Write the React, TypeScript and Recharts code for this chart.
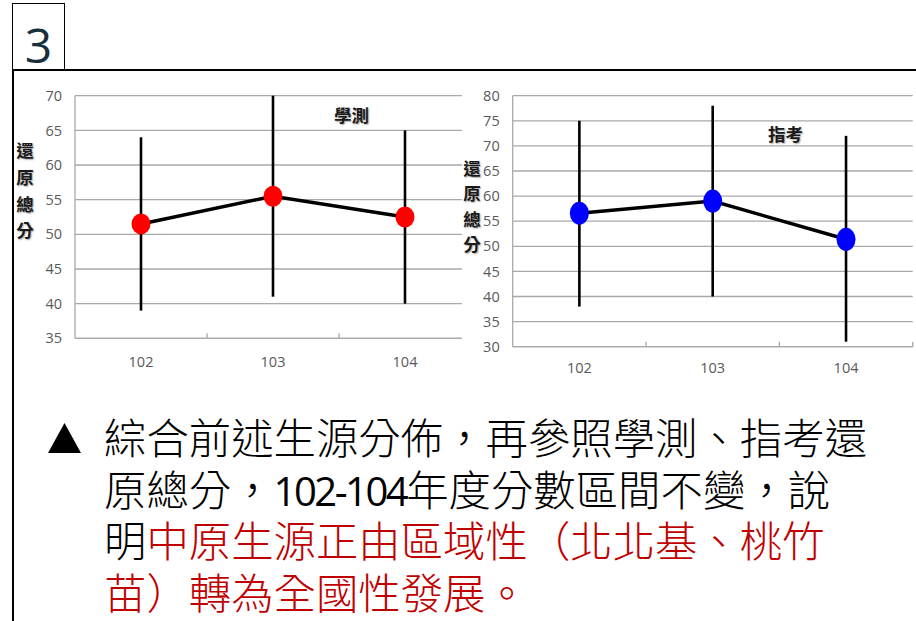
import React from "react";
import { LineChart, Line, XAxis, YAxis, CartesianGrid, ErrorBar } from "recharts";

// Data
const years = [102, 103, 104];

// 學測
const gsatMean = [51.5, 55.5, 52.5];
const gsatHigh = [64, 70, 65];
const gsatLow = [39, 41, 40];
const gsatTicks = [35, 40, 45, 50, 55, 60, 65, 70];

// 指考
const astMean = [56.6, 59, 51.4];
const astHigh = [75, 78, 72];
const astLow = [38, 40, 31];
const astTicks = [30, 35, 40, 45, 50, 55, 60, 65, 70, 75, 80];

const yLabel = ["還", "原", "總", "分"];

const GRID = "#a9a9a9";
const TICK_FONT = "'Open Sans', 'Noto Sans', sans-serif";
const CJK = "'Noto Sans CJK TC', 'Noto Sans CJK SC', sans-serif";

const buildRows = (mean: number[], high: number[], low: number[]) =>
  years.map((year, i) => ({
    year,
    mean: mean[i],
    err: [mean[i] - low[i], high[i] - mean[i]],
  }));

// x labels on the years, short inward marks between the categories
const xTicks = [...years, ...years.map((y) => y + 0.5)].sort((a, b) => a - b);

function makeTick(labelOffset: number) {
  return (props: any) => {
    const { x, y, payload } = props;
    if (Number.isInteger(payload.value)) {
      return (
        <text x={x} y={y + labelOffset} dy="0.35em" textAnchor="middle" fill="#595959" fontSize={14.5} fontFamily={TICK_FONT}>
          {payload.value}
        </text>
      );
    }
    return <line x1={x} x2={x} y1={y - 5} y2={y} stroke={GRID} strokeWidth={1.3} />;
  };
}

type ScoreChartProps = {
  mean: number[];
  high: number[];
  low: number[];
  ticks: number[];
  color: string;
  ry: number;
  width: number;
  yAxisWidth: number;
  right: number;
  xAxisHeight: number;
  labelOffset: number;
};

function ScoreChart(p: ScoreChartProps) {
  const rows = buildRows(p.mean, p.high, p.low);
  return (
    <LineChart width={p.width} height={300} data={rows} margin={{ top: 15.7, right: p.right, bottom: 0, left: 0 }}>
      <CartesianGrid vertical={false} stroke={GRID} strokeWidth={1.3} />
      <XAxis
        dataKey="year"
        type="number"
        domain={[years[0] - 0.5, years[years.length - 1] + 0.5]}
        ticks={xTicks}
        interval={0}
        height={p.xAxisHeight}
        tickSize={0}
        tickMargin={0}
        tickLine={false}
        axisLine={{ stroke: GRID, strokeWidth: 1.3 }}
        tick={makeTick(p.labelOffset)}
      />
      <YAxis
        type="number"
        domain={[p.ticks[0], p.ticks[p.ticks.length - 1]]}
        ticks={p.ticks}
        interval={0}
        width={p.yAxisWidth}
        tickSize={0}
        tickMargin={13}
        tickLine={false}
        axisLine={{ stroke: GRID, strokeWidth: 1.3 }}
        tick={{ fill: "#595959", fontSize: 14.5, fontFamily: TICK_FONT }}
      />
      <Line
        dataKey="mean"
        stroke="#000"
        strokeWidth={3.5}
        isAnimationActive={false}
        activeDot={false}
        dot={(d: any) => <ellipse key={d.index} cx={d.cx} cy={d.cy} rx={9.5} ry={p.ry} fill={p.color} />}
      />
      <Line dataKey="mean" stroke="none" dot={false} activeDot={false} isAnimationActive={false}>
        <ErrorBar dataKey="err" direction="y" width={0} stroke="#000" strokeWidth={2.6} isAnimationActive={false} />
      </Line>
    </LineChart>
  );
}

const shadowText: React.CSSProperties = {
  position: "absolute",
  fontFamily: CJK,
  fontWeight: 700,
  fontSize: 17.5,
  color: "#1a1a1a",
  textShadow: "1px 1px 1.5px rgba(0,0,0,0.35)",
  lineHeight: 1,
};

function VerticalLabel({ left, top, step }: { left: number; top: number; step: number }) {
  return (
    <>
      {yLabel.map((ch, i) => (
        <div key={ch} style={{ ...shadowText, left: left - 8.75, top: top + i * step - 8.75 }}>
          {ch}
        </div>
      ))}
    </>
  );
}

const bodyText: React.CSSProperties = {
  whiteSpace: "nowrap",
  height: 51.7,
  lineHeight: "51.7px",
};

export default function App() {
  return (
    <div
      style={{
        position: "absolute",
        left: 0,
        top: 0,
        width: 916,
        height: 621,
        background: "#fff",
        overflow: "hidden",
        fontFamily: CJK,
      }}
    >
      {/* slide number box and frame */}
      <div style={{ position: "absolute", left: 12, top: 3, width: 51, height: 66, border: "1.5px solid #000" }} />
      <div
        style={{
          position: "absolute",
          left: 12,
          top: 3,
          width: 53,
          height: 68,
          textAlign: "center",
          lineHeight: "84px",
          fontSize: 48,
          fontFamily: "'Open Sans', sans-serif",
          fontWeight: 400,
          color: "#17303b",
        }}
      >
        3
      </div>
      <div style={{ position: "absolute", left: 12, top: 69, width: 904, height: 2, background: "#000" }} />
      <div style={{ position: "absolute", left: 12, top: 70, width: 1.5, height: 560, background: "#000" }} />

      {/* 學測 */}
      <div style={{ position: "absolute", left: 0, top: 80 }}>
        <ScoreChart
          mean={gsatMean}
          high={gsatHigh}
          low={gsatLow}
          ticks={gsatTicks}
          color="#ff0000"
          ry={10.5}
          width={480}
          yAxisWidth={75}
          right={9}
          xAxisHeight={41.7}
          labelOffset={23.4}
        />
      </div>
      <div style={{ ...shadowText, left: 334, top: 106 }}>學測</div>
      <VerticalLabel left={25} top={150} step={26.7} />

      {/* 指考 */}
      <div style={{ position: "absolute", left: 462, top: 80, background: "#fff" }}>
        <ScoreChart
          mean={astMean}
          high={astHigh}
          low={astLow}
          ticks={astTicks}
          color="#0000ff"
          ry={11.5}
          width={454}
          yAxisWidth={50.7}
          right={3.3}
          xAxisHeight={33.3}
          labelOffset={21.3}
        />
      </div>
      <div style={{ ...shadowText, left: 768, top: 125 }}>指考</div>
      <VerticalLabel left={472} top={168} step={25.2} />

      {/* note */}
      <svg style={{ position: "absolute", left: 48, top: 423 }} width={33} height={31}>
        <polygon points="0,30 16.5,0 33,30" fill="#000" />
      </svg>
      <div style={{ position: "absolute", left: 104, top: 410, fontSize: 42.4, fontWeight: 300, color: "#000" }}>
        <div style={bodyText}>綜合前述生源分佈，再參照學測、指考還</div>
        <div style={bodyText}>
          原總分，
          <span style={{ fontFamily: "'Open Sans', sans-serif", fontWeight: 500, letterSpacing: -2.5, fontSize: 40 }}>102-104</span>
          年度分數區間不變，說
        </div>
        <div style={bodyText}>
          明<span style={{ color: "#c00000" }}>中原生源正由區域性（北北基、桃竹</span>
        </div>
        <div style={{ ...bodyText, color: "#c00000" }}>苗）轉為全國性發展。</div>
      </div>
    </div>
  );
}
